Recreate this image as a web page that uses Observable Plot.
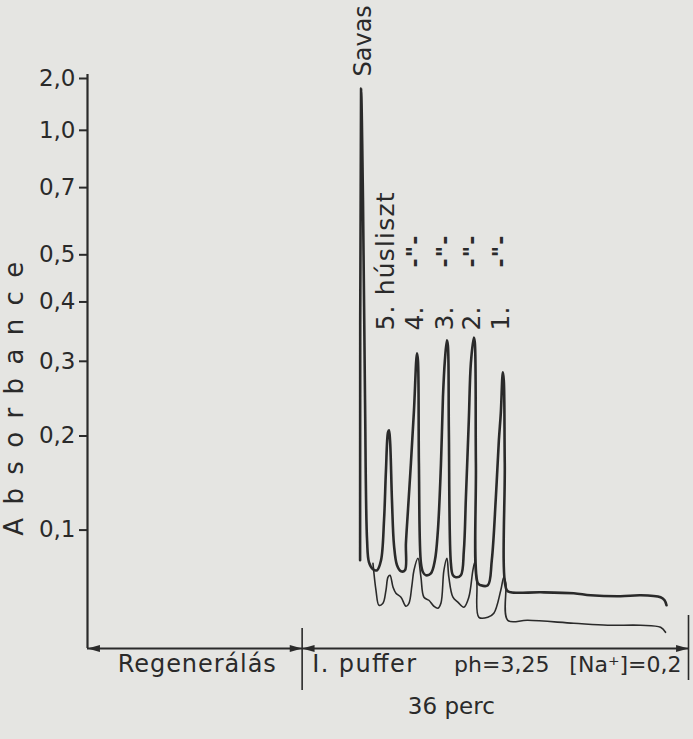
<!DOCTYPE html>
<html><head><meta charset="utf-8">
<script src="https://cdn.jsdelivr.net/npm/d3@7"></script>
<script src="https://cdn.jsdelivr.net/npm/@observablehq/plot@0.6"></script>
<style>
html,body{margin:0;padding:0;background:#e5e5e2;}
#chart svg{display:block;}
</style></head><body><div id="chart"></div>
<script>
// Absorbance tick labels of the recorder chart (scale is linear in transmittance)
const yTicks = [0.1, 0.2, 0.3, 0.4, 0.5, 0.7, 1.0, 2.0];

// Upper trace (sample), time in minutes from the buffer change, absorbance
const upperTime = [5.40,5.49,5.67,5.86,6.05,6.23,6.60,6.98,7.35,7.63,
  7.81,8.00,8.09,8.19,8.37,8.56,8.84,9.21,9.58,9.67,
  9.86,10.14,10.42,10.70,10.79,10.88,11.07,11.26,11.53,12.00,
  12.37,12.65,12.93,13.12,13.30,13.49,13.58,13.67,13.86,14.05,
  14.33,14.79,15.07,15.26,15.53,15.72,16.00,16.09,16.19,16.37,
  16.65,17.30,17.67,18.05,18.33,18.51,18.70,18.79,18.88,19.07,
  19.44,22.23,25.30,26.88,29.67,31.53,33.40,33.77,33.95];
const upperAbs = [0.0722,1.563,0.654,0.245,0.0904,0.0704,0.0643,0.0634,0.0722,0.1094,
  0.1608,0.2044,0.2068,0.1948,0.1292,0.0858,0.0678,0.0625,0.0634,0.0876,
  0.1192,0.1696,0.2318,0.3121,0.3014,0.1685,0.0696,0.0617,0.0591,0.0608,
  0.0722,0.0998,0.1663,0.2489,0.3014,0.3327,0.3247,0.2068,0.0696,0.0591,
  0.0574,0.0591,0.0812,0.1323,0.2191,0.2969,0.3375,0.3295,0.1685,0.0523,
  0.0505,0.0505,0.0722,0.1323,0.1948,0.2280,0.2836,0.2722,0.1685,0.0463,
  0.0446,0.0446,0.0438,0.0421,0.0413,0.0421,0.0405,0.0380,0.0339];

// Lower trace
const lowerTime = [6.60,6.88,7.16,7.53,7.81,8.00,8.19,8.47,8.74,9.21,
  9.67,9.95,10.23,10.42,10.79,11.07,11.35,11.81,12.28,12.65,
  12.93,13.21,13.49,13.67,14.05,14.51,15.07,15.53,15.91,16.09,
  16.28,16.47,17.30,17.86,18.51,18.79,18.98,19.16,21.02,25.30,
  28.47,31.53,33.40,33.86];
const lowerAbs = [0.0696,0.0463,0.0339,0.0355,0.0463,0.0574,0.0591,0.0488,0.0438,0.0405,
  0.0331,0.0355,0.0505,0.0634,0.0740,0.0574,0.0405,0.0380,0.0331,0.0315,
  0.0355,0.0634,0.0740,0.0574,0.0405,0.0364,0.0323,0.0405,0.0634,0.0704,
  0.0523,0.0242,0.0242,0.0274,0.0463,0.0574,0.0523,0.0218,0.0218,0.0195,
  0.0179,0.0179,0.0163,0.0124];

// Peak labels
const peakTime = [8.0, 10.7, 13.5, 16.0, 18.7];
const peakLabels = ["5. húsliszt", "4.", "3.", "2.", "1."];
const dittoTime = [10.7, 13.5, 16.0, 18.7];
const dittoLabels = ['-"-', '-"-', '-"-', '-"-'];
const savasTime = 5.49, savasAbs = 1.563, savasLabel = "Savas";

// Time axis segments
const yLabel = "Absorbance";
const regenLabel = "Regenerálás";
const bufferLabels = ["I. puffer", "ph=3,25", "[Na⁺]=0,2"];
const durationLabel = "36 perc";
const tStart = -20, tSwitch = 0, tEnd = 36;

const ink = "#2a2a2a";
const T = a => 10 ** -a;
const fmt = t => (Math.round(-Math.log10(t) * 10) / 10).toFixed(1).replace(".", ",");
const upper = upperTime.map((t, i) => ({t, a: upperAbs[i]}));
const lower = lowerTime.map((t, i) => ({t, a: lowerAbs[i]}));

const headRight = {draw(c, size) { const l = Math.sqrt(size); c.moveTo(0, 0); c.lineTo(-l, -l * 0.28); c.lineTo(-l, l * 0.28); c.closePath(); }};
const headLeft = {draw(c, size) { const l = Math.sqrt(size); c.moveTo(0, 0); c.lineTo(l, -l * 0.28); c.lineTo(l, l * 0.28); c.closePath(); }};

const chart = Plot.plot({
  width: 693, height: 739,
  marginLeft: 87, marginRight: 5, marginTop: 78, marginBottom: 91,
  style: {fontFamily: "DejaVu Sans", color: ink, background: "#e5e5e2", overflow: "visible"},
  x: {domain: [tStart, tEnd], axis: null},
  y: {type: "linear", domain: [1, 0.01]},
  marks: [
    Plot.axisY(yTicks.map(T), {tickSize: 8, tickPadding: 4, fontSize: 23, tickFormat: fmt, label: null, strokeWidth: 2}),
    Plot.ruleX([tStart], {y1: T(2), y2: 1, insetTop: -4, strokeWidth: 2.2, stroke: ink}),
    Plot.text([yLabel], {x: tStart, y: T(0.247), dx: -73, rotate: -90, fontSize: 26, fill: ink}),
    // time axis with arrows
    Plot.ruleY([1], {x1: tStart, x2: tEnd, strokeWidth: 2.2, stroke: ink}),
    Plot.dot([tSwitch, tEnd], {x: d => d, y: 1, symbol: headRight, r: 7, fill: ink, stroke: null}),
    Plot.dot([tStart, tSwitch], {x: d => d, y: 1, symbol: headLeft, r: 7, fill: ink, stroke: null}),
    Plot.ruleX([tSwitch], {y1: 1, y2: 1, insetTop: -20, insetBottom: -42, strokeWidth: 1.6, stroke: ink}),
    Plot.ruleX([tEnd], {y1: 1, y2: 1, insetTop: -33, insetBottom: -32, strokeWidth: 1.6, stroke: ink}),
    Plot.text([regenLabel], {x: (tStart + tSwitch) / 2, y: 1, dx: 2, dy: 16, fontSize: 24, fill: ink}),
    Plot.text([bufferLabels[0]], {x: tSwitch, y: 1, dx: 10, dy: 16, textAnchor: "start", fontSize: 24, fill: ink}),
    Plot.text([bufferLabels[1]], {x: 18.6, y: 1, dy: 16, fontSize: 22, fill: ink}),
    Plot.text([bufferLabels[2]], {x: tEnd, y: 1, dx: -7, dy: 16, textAnchor: "end", fontSize: 22, fill: ink}),
    Plot.text([durationLabel], {x: 13.9, y: 1, dy: 58, fontSize: 23, fill: ink}),
    // traces
    Plot.line(lower, {x: "t", y: d => T(d.a), curve: "catmull-rom", stroke: ink, strokeWidth: 1.6}),
    Plot.line(upper, {x: "t", y: d => T(d.a), curve: "catmull-rom", stroke: ink, strokeWidth: 2.6}),
    // labels
    Plot.text([savasLabel], {x: savasTime, y: T(savasAbs), dx: 2, dy: -12, rotate: -90, textAnchor: "start", lineAnchor: "middle", fontSize: 24, fill: ink}),
    Plot.text(peakLabels, {x: (d, i) => peakTime[i], y: T(0.349), dx: -2, rotate: -90, textAnchor: "start", lineAnchor: "middle", fontSize: 25, fill: ink}),
    Plot.text(dittoLabels, {x: (d, i) => dittoTime[i], y: T(0.508), dx: -2, rotate: -90, textAnchor: "middle", lineAnchor: "middle", fontSize: 22, fontWeight: "bold", fill: ink})
  ]
});
document.getElementById("chart").appendChild(chart);
// widen the spacing to match the original hand lettering
const fit = {"Absorbance": 274, "Regenerálás": 158, "I. puffer": 104, "5. húsliszt": 138, '-"-': 32};
d3.select(chart).selectAll("text").each(function () {
  const w = fit[this.textContent];
  if (w) { this.setAttribute("textLength", w); this.setAttribute("lengthAdjust", "spacing"); }
});
</script>
</body></html>
